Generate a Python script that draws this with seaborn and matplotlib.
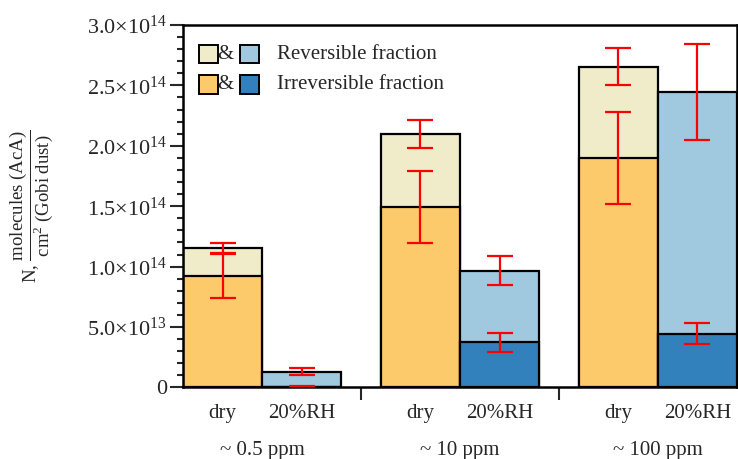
import numpy as np
import pandas as pd
import matplotlib
matplotlib.use("Agg")
import matplotlib.pyplot as plt
from matplotlib.patches import Rectangle
from matplotlib.ticker import FixedLocator, MultipleLocator
import seaborn as sns

# --- data (units of 1e14 molecules / cm2) ---
groups = ["~ 0.5 ppm", "~ 10 ppm", "~ 100 ppm"]
conditions = ["dry", "20%RH"]

dry_total = [1.152, 2.098, 2.656]
dry_irrev = [0.925, 1.492, 1.897]
rh_total = [0.131, 0.967, 2.444]
rh_irrev = [0.0, 0.374, 0.443]

dry_total_err = [0.044, 0.117, 0.153]
dry_irrev_err = [0.187, 0.300, 0.381]
rh_total_err = [0.028, 0.121, 0.397]
rh_irrev_err = [0.015, 0.077, 0.087]

yticks = [0, 0.5, 1.0, 1.5, 2.0, 2.5, 3.0]
ytick_labels = ["0", r"5.0$\times$10$^{13}$", r"1.0$\times$10$^{14}$", r"1.5$\times$10$^{14}$",
                r"2.0$\times$10$^{14}$", r"2.5$\times$10$^{14}$", r"3.0$\times$10$^{14}$"]

# colours
BEIGE = "#F0EBC8"
ORANGE = "#FDCA6B"
LBLUE = "#A0C9E0"
DBLUE = "#3281BC"

# bar positions: two bars per group, a gap between groups
dry_x = np.array([0.0, 2.5, 5.0])
rh_x = dry_x + 1

sns.set_style("ticks")
plt.rcParams["font.family"] = ["Liberation Serif", "DejaVu Serif"]
plt.rcParams["mathtext.fontset"] = "custom"
plt.rcParams["mathtext.rm"] = "Liberation Serif"
plt.rcParams["mathtext.it"] = "Liberation Serif:italic"
FS = 15

fig = plt.figure(figsize=(7.38, 4.59), dpi=100)
ax = fig.add_axes([0.248, 0.156, 0.7506, 0.7895])

# native_scale width is relative to the spacing (2.5) between bars of one call
bar_kw = dict(native_scale=True, width=1.0 / 2.5, edgecolor="black", linewidth=1.6,
              errorbar=None, saturation=1, ax=ax)
sns.barplot(x=dry_x, y=dry_total, color=BEIGE, **bar_kw)
sns.barplot(x=dry_x, y=dry_irrev, color=ORANGE, **bar_kw)
sns.barplot(x=rh_x, y=rh_total, color=LBLUE, **bar_kw)
sns.barplot(x=rh_x, y=rh_irrev, color=DBLUE, **bar_kw)

err_kw = dict(fmt="none", ecolor="red", elinewidth=1.6, capsize=9.5, capthick=1.6, zorder=5)
ax.errorbar(dry_x, dry_total, yerr=dry_total_err, **err_kw)
ax.errorbar(dry_x, dry_irrev, yerr=dry_irrev_err, **err_kw)
ax.errorbar(rh_x, rh_total, yerr=rh_total_err, **err_kw)
ax.errorbar(rh_x, rh_irrev, yerr=rh_irrev_err, **err_kw)

ax.set_xlim(-0.5, 6.5)
ax.set_ylim(0, 3.0)

# y axis
ax.set_yticks(yticks)
ax.set_yticklabels(ytick_labels, fontsize=16)
ax.yaxis.set_minor_locator(MultipleLocator(0.1))
ax.tick_params(axis="y", which="major", direction="out", length=9.5, width=1.5, pad=2)
ax.tick_params(axis="y", which="minor", direction="out", length=4.5, width=1.5)

# x axis: condition labels under bars, group separators as minor ticks
xpos = np.sort(np.concatenate([dry_x, rh_x]))
ax.set_xticks(xpos)
ax.set_xticklabels(conditions * 3, fontsize=FS)
ax.tick_params(axis="x", which="major", length=0, pad=12)
ax.xaxis.set_minor_locator(FixedLocator([1.75, 4.25]))
ax.tick_params(axis="x", which="minor", direction="out", length=9.5, width=1.5)
for gx, g in zip(dry_x + 0.5, groups):
    ax.text(gx, -0.52, g, ha="center", va="center", fontsize=FS)

for s in ax.spines.values():
    s.set_linewidth(1.8)
    s.set_color("black")

ax.set_ylabel(r"N, $\dfrac{\mathrm{molecules\ (AcA)}}{\mathrm{cm}^2\mathrm{\ (Gobi\ dust)}}$",
              fontsize=13.5)
ax.yaxis.set_label_coords(-0.232, 0.5)

# hand-made legend (two swatches joined by "&")
rows = [((BEIGE, LBLUE), "Reversible fraction", 0.92),
        ((ORANGE, DBLUE), "Irreversible fraction", 0.836)]
sw, sh = 0.035, 0.05
for (c1, c2), label, yc in rows:
    ax.add_patch(Rectangle((0.028, yc - sh / 2), sw, sh, transform=ax.transAxes,
                           facecolor=c1, edgecolor="black", linewidth=1.4, zorder=6))
    ax.text(0.077, yc, "&", transform=ax.transAxes, ha="center", va="center", fontsize=FS)
    ax.add_patch(Rectangle((0.103, yc - sh / 2), sw, sh, transform=ax.transAxes,
                           facecolor=c2, edgecolor="black", linewidth=1.4, zorder=6))
    ax.text(0.170, yc, label, transform=ax.transAxes, ha="left", va="center", fontsize=FS)

plt.savefig("out.png", dpi=100)
